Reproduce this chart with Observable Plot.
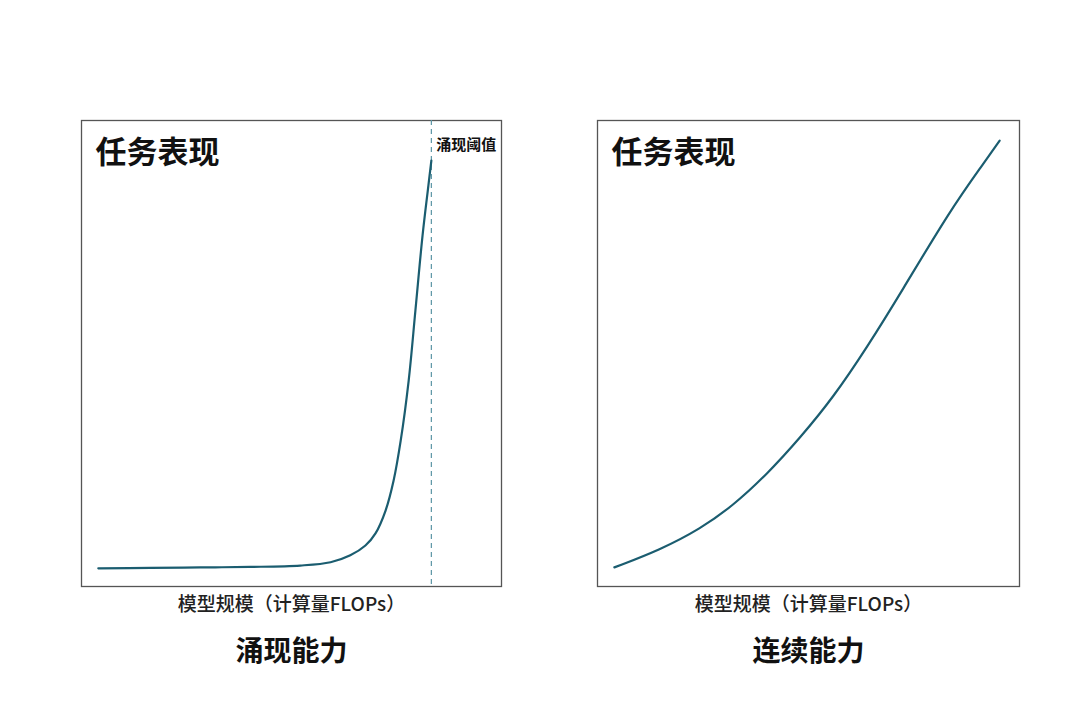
<!DOCTYPE html>
<html><head><meta charset="utf-8">
<script src="https://cdn.jsdelivr.net/npm/d3@7"></script>
<script src="https://cdn.jsdelivr.net/npm/@observablehq/plot@0.6"></script>
<style>
html,body{margin:0;padding:0;background:#fff;}
#wrap{position:relative;width:1080px;height:720px;font-family:"Noto Sans CJK SC","Noto Sans",sans-serif;}
#wrap svg{position:absolute;top:0;overflow:visible;}
</style></head>
<body><div id="wrap"></div>
<script>
// Emergent ability curve (model scale 0-100, task performance 0-100)
const emergentX = [4.0, 16.4, 28.3, 40.2, 52.1, 59.3, 64.0, 67.6, 70.0, 72.4, 74.3, 76.0, 77.9, 79.5, 81.2, 82.6, 83.3];
const emergentY = [3.9, 4.0, 4.1, 4.2, 4.5, 5.2, 6.7, 8.8, 11.4, 16.3, 22.7, 31.3, 44.2, 59.2, 75.3, 86.1, 91.4];
const threshold = 83.3;
// Continuous ability curve
const continuousX = [4.0, 14.9, 24.4, 32.2, 40.3, 48.1, 55.9, 64.0, 71.8, 83.6, 91.5, 95.3];
const continuousY = [4.1, 7.9, 12.4, 17.4, 24.2, 32.0, 40.6, 51.5, 62.9, 80.8, 90.8, 95.7];
const yLabel = "任务表现";
const xLabel = "模型规模（计算量FLOPs）";
const thresholdLabel = "涌现阈值";
const titles = ["涌现能力", "连续能力"];

const lineColor = "#1b5d70";
const font = '"Noto Sans CJK SC","Noto Sans",sans-serif';

function panel(xs, ys, title, margins, withThreshold, curve) {
  const data = xs.map((x, i) => ({x, y: ys[i]}));
  const marks = [
    Plot.frame({stroke: "#555", strokeWidth: 1.3}),
    Plot.line(data, {x: "x", y: "y", stroke: lineColor, strokeWidth: 2.2, curve}),
    Plot.text([yLabel], {frameAnchor: "top-left", dx: 14, dy: 20, text: d => d, fontSize: 31, fontWeight: "bold", fill: "#111", textAnchor: "start"}),
    Plot.text([xLabel], {frameAnchor: "bottom", dy: 24, text: d => d, fontSize: 19, fontWeight: 500, fill: "#222"}),
    Plot.text([title], {frameAnchor: "bottom", dy: 74, text: d => d, fontSize: 28, fontWeight: "bold", fill: "#111"})
  ];
  if (withThreshold) {
    marks.splice(1, 0, Plot.ruleX([threshold], {stroke: "#5b95a5", strokeWidth: 1.2, strokeDasharray: "5,4"}));
    marks.push(Plot.text([threshold], {x: d => d, frameAnchor: "top", dy: 19, dx: 5, text: () => thresholdLabel, fontSize: 15, fontWeight: "bold", fill: "#111", textAnchor: "start"}));
  }
  return Plot.plot({
    width: 540, height: 720,
    marginTop: 120, marginBottom: 134, marginLeft: margins[0], marginRight: margins[1],
    style: {fontFamily: font, background: "transparent"},
    x: {domain: [0, 100], axis: null},
    y: {domain: [0, 100], axis: null},
    marks
  });
}

const wrap = document.getElementById("wrap");
const p1 = panel(emergentX, emergentY, titles[0], [81, 39], true, "catmull-rom");
p1.style.left = "0px";
const p2 = panel(continuousX, continuousY, titles[1], [57, 61], false, "basis");
p2.style.left = "540px";
wrap.appendChild(p1);
wrap.appendChild(p2);
</script></body></html>
